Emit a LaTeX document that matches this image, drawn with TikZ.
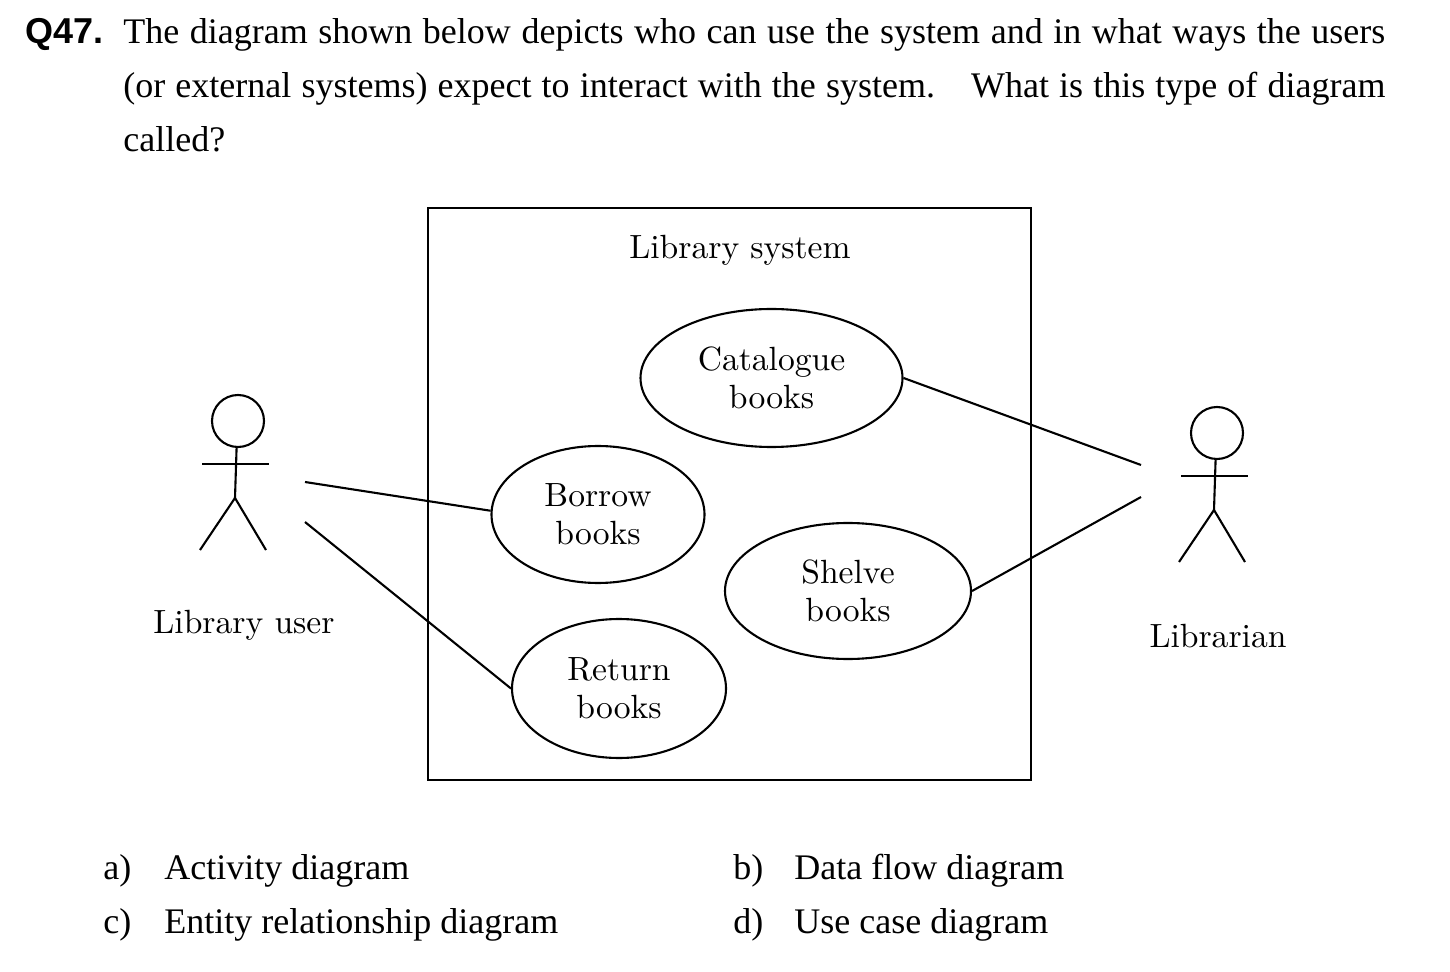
\documentclass[tikz,border=0pt]{standalone}
\usepackage{fontspec}
\setmainfont{Liberation Serif}
\newfontfamily\labelfont{lmroman10-regular.otf}
\newfontfamily\qfont{Liberation Sans}
\usetikzlibrary{shapes.geometric}
\tikzset{
    body/.style={anchor=base west,inner sep=0pt,font=\fontsize{18}{18}\selectfont},
    usecase/.style={draw,ellipse,line width=1.05pt,inner sep=0pt,align=center,font=\labelfont\fontsize{16.8}{19}\selectfont},
    caption/.style={inner sep=0pt,font=\labelfont\fontsize{16.8}{19}\selectfont},
    head/.style={draw,circle,line width=1.05pt,minimum size=26pt,inner sep=0pt},
    link/.style={line width=1.05pt}
}
\begin{document}
\begin{tikzpicture}[x=0.5pt,y=-0.5pt]
\useasboundingbox (0,0) rectangle (1450,972);
%Question text
    \node[body,font=\qfont\bfseries\fontsize{18}{18}\selectfont] (qnum) at (25,44) {Q47.};
    \node[body] (qa) at (123,44) {\makebox[631pt][s]{The diagram shown below depicts who can use the system and in what ways the users}};
    \node[body] (qb) at (123,98) {\makebox[631pt][s]{(or external systems) expect to interact with the system.\hspace{18pt}What is this type of diagram}};
    \node[body] (qc) at (123,152) {called?};
%System boundary
    \node[draw,line width=1.05pt,minimum width=301.5pt,minimum height=286pt,inner sep=0pt] (system) at (729.5,494) {};
    \node[caption] (systitle) at (740,250.5) {Library system};
%Use cases
    \node[usecase,minimum width=131pt,minimum height=69pt] (catalogue) at (771.5,378) {Catalogue\\books};
    \node[usecase,minimum width=106.5pt,minimum height=68.5pt] (borrow) at (598,514.5) {Borrow\\books};
    \node[usecase,minimum width=123pt,minimum height=68pt] (shelve) at (848,591) {Shelve\\books};
    \node[usecase,minimum width=107pt,minimum height=69.5pt] (return) at (619,688.5) {Return\\books};
%Library user
    \node[head] (userhead) at (238,421) {};
    \coordinate (userarml) at (202,464);
    \coordinate (userarmr) at (269,464);
    \coordinate (userhip) at (235,498);
    \coordinate (userlegl) at (200,550);
    \coordinate (userlegr) at (266,550);
    \draw[link] (userhead.267) -- (userhip);
    \draw[link] (userarml) -- (userarmr);
    \draw[link] (userlegl) -- (userhip) -- (userlegr);
    \node[caption] (usertext) at (244,625.5) {Library user};
%Librarian
    \node[head] (libhead) at (1217,433) {};
    \coordinate (libarml) at (1181,476);
    \coordinate (libarmr) at (1248,476);
    \coordinate (libhip) at (1214,510);
    \coordinate (liblegl) at (1179,562);
    \coordinate (liblegr) at (1245,562);
    \draw[link] (libhead.267) -- (libhip);
    \draw[link] (libarml) -- (libarmr);
    \draw[link] (liblegl) -- (libhip) -- (liblegr);
    \node[caption] (libtext) at (1218,636.5) {Librarian};
%Associations
    \coordinate (usera) at (305,482);
    \coordinate (userb) at (305,522);
    \coordinate (liba) at (1141,465);
    \coordinate (libb) at (1141,497);
    \draw[link] (usera) -- (borrow.178);
    \draw[link] (userb) -- (return.west);
    \draw[link] (catalogue.east) -- (liba);
    \draw[link] (shelve.east) -- (libb);
%Answers
    \node[body] (ansa) at (103,879) {a)};
    \node[body] (texta) at (164,879) {Activity diagram};
    \node[body] (ansb) at (733,879) {b)};
    \node[body] (textb) at (794,879) {Data flow diagram};
    \node[body] (ansc) at (103,933) {c)};
    \node[body] (textc) at (164,933) {Entity relationship diagram};
    \node[body] (ansd) at (733,933) {d)};
    \node[body] (textd) at (794,933) {Use case diagram};
\end{tikzpicture}
\end{document}
